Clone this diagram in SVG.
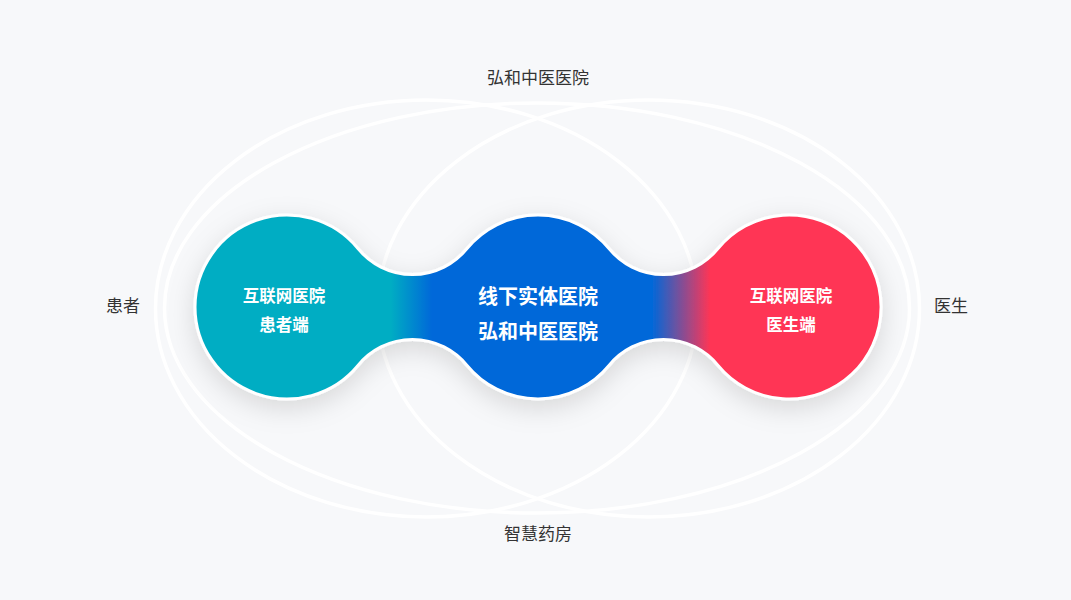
<svg xmlns="http://www.w3.org/2000/svg" width="1071" height="600" viewBox="0 0 1071 600">
  <style>
    .ring { fill: none; stroke: #ffffff; stroke-width: 3.5; }
    .label { font-family: "Noto Sans CJK SC", "Noto Sans", sans-serif; font-size: 17px; fill: #333333; text-anchor: middle; }
    .inner { font-family: "Noto Sans CJK SC", "Noto Sans", sans-serif; font-weight: bold; fill: #ffffff; text-anchor: middle; }
    .small { font-size: 16.5px; }
    .big { font-size: 20px; }
  </style>
  <defs>
    <linearGradient id="blobGrad" gradientUnits="userSpaceOnUse" x1="195" y1="0" x2="882" y2="0">
      <stop offset="0" stop-color="#05adc3"/>
      <stop offset="0.285" stop-color="#05adc3"/>
      <stop offset="0.345" stop-color="#0068d9"/>
      <stop offset="0.665" stop-color="#0068d9"/>
      <stop offset="0.75" stop-color="#ff3555"/>
      <stop offset="1" stop-color="#ff3555"/>
    </linearGradient>
    <filter id="shadow" x="-20%" y="-40%" width="140%" height="190%">
      <feGaussianBlur in="SourceAlpha" stdDeviation="13"/>
      <feOffset dx="0" dy="8" result="b"/>
      <feFlood flood-color="#000000" flood-opacity="0.13"/>
      <feComposite in2="b" operator="in"/>
      <feMerge>
        <feMergeNode/>
        <feMergeNode in="SourceGraphic"/>
      </feMerge>
    </filter>
  </defs>
  <rect width="1071" height="600" fill="#f7f8fa"/>

  <g id="rings">
    <ellipse class="ring" cx="426.5" cy="308.5" rx="271" ry="208.5"/>
    <ellipse class="ring" cx="648.5" cy="308.5" rx="271" ry="208.5"/>
    <ellipse class="ring" cx="537" cy="308" rx="372.5" ry="205"/>
  </g>

  <g id="blob">
    <path filter="url(#shadow)" fill="url(#blobGrad)" stroke="#ffffff" stroke-width="3"
      d="M195,307 A92,92 0 0 1 358.2,248.8 A70.1,70.1 0 0 0 466.8,248.8 A92,92 0 0 1 609.2,248.8 A70.1,70.1 0 0 0 717.8,248.8 A92,92 0 1 1 717.8,365.2 A70.1,70.1 0 0 0 609.2,365.2 A92,92 0 0 1 466.8,365.2 A70.1,70.1 0 0 0 358.2,365.2 A92,92 0 0 1 195,307 Z"/>
  </g>

  <g id="node-patient">
    <text class="inner small" x="284" y="302">互联网医院</text>
    <text class="inner small" x="284" y="331">患者端</text>
  </g>
  <g id="node-hospital">
    <text class="inner big" x="538" y="304">线下实体医院</text>
    <text class="inner big" x="538" y="339">弘和中医医院</text>
  </g>
  <g id="node-doctor">
    <text class="inner small" x="791" y="302">互联网医院</text>
    <text class="inner small" x="791" y="331">医生端</text>
  </g>

  <g id="label-top"><text class="label" x="538" y="84">弘和中医医院</text></g>
  <g id="label-left"><text class="label" x="123" y="312">患者</text></g>
  <g id="label-right"><text class="label" x="951" y="312">医生</text></g>
  <g id="label-bottom"><text class="label" x="538" y="540">智慧药房</text></g>
</svg>
